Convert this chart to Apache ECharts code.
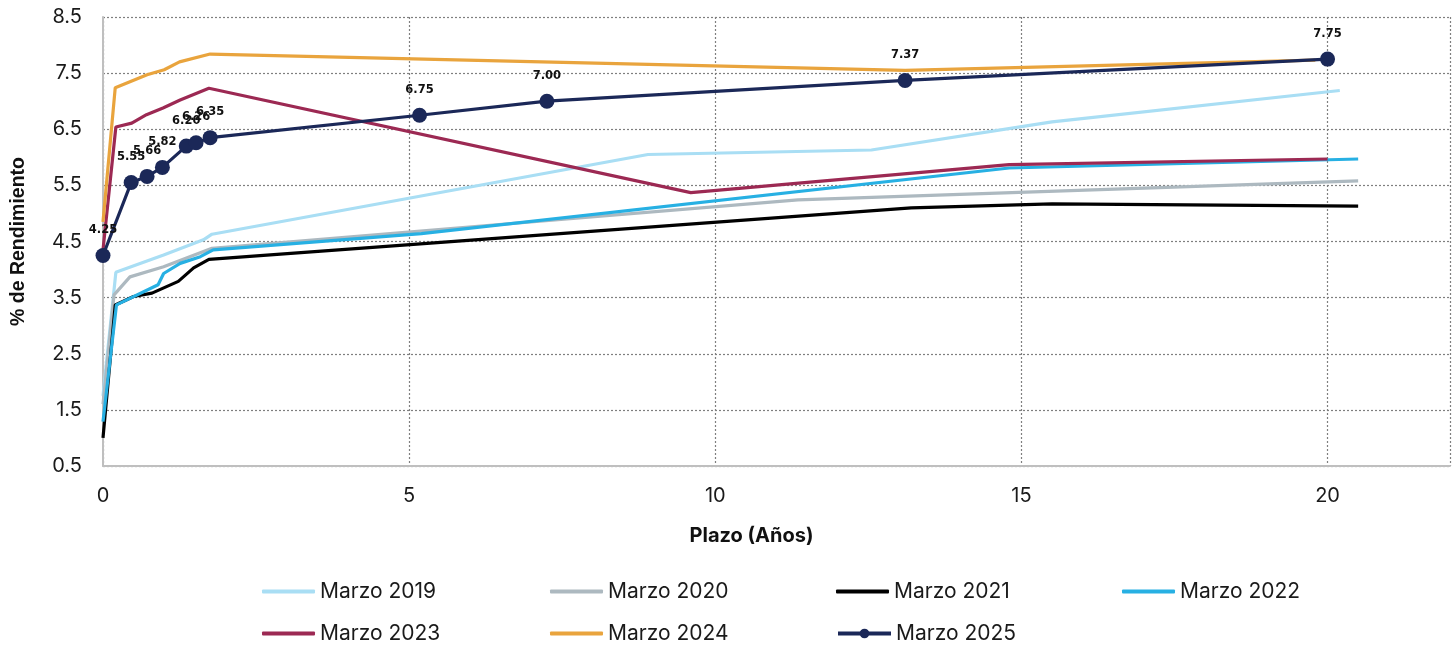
<!DOCTYPE html>
<html>
<head>
<meta charset="utf-8">
<script src="https://cdn.jsdelivr.net/npm/echarts@6/dist/echarts.min.js"></script>
<style>
html,body{margin:0;padding:0;background:#fff;}
#chart{width:1456px;height:647px;}
</style>
</head>
<body>
<div id="chart"></div>
<script>
// ---- Data (tenor in years, yield %) ----
const seriesNames = ["Marzo 2019","Marzo 2020","Marzo 2021","Marzo 2022","Marzo 2023","Marzo 2024","Marzo 2025"];

const x2019 = [0, 0.21, 0.99, 1.64, 1.78, 8.9, 12.55, 15.5, 20.2];
const y2019 = [1.75, 3.95, 4.26, 4.53, 4.63, 6.05, 6.13, 6.63, 7.19];

const x2020 = [0, 0.18, 0.44, 0.99, 1.78, 11.35, 20.5];
const y2020 = [1.6, 3.55, 3.87, 4.05, 4.38, 5.24, 5.58];

const x2021 = [0, 0.2, 0.5, 0.8, 1.23, 1.48, 1.73, 13.2, 15.5, 20.5];
const y2021 = [1.0, 3.37, 3.52, 3.58, 3.79, 4.03, 4.18, 5.10, 5.17, 5.13];

const x2022 = [0, 0.22, 0.9, 0.99, 1.26, 1.59, 1.8, 5.2, 14.8, 20.5];
const y2022 = [1.29, 3.37, 3.73, 3.93, 4.11, 4.23, 4.35, 4.64, 5.81, 5.97];

const x2023 = [0, 0.21, 0.47, 0.71, 0.98, 1.26, 1.73, 9.6, 14.8, 20.0];
const y2023 = [4.35, 6.54, 6.61, 6.76, 6.88, 7.02, 7.23, 5.37, 5.87, 5.97];

const x2024 = [0, 0.2, 0.72, 1.0, 1.25, 1.75, 13.1, 19.8];
const y2024 = [4.85, 7.24, 7.47, 7.56, 7.70, 7.84, 7.55, 7.73];

const x2025 = [0, 0.46, 0.72, 0.97, 1.36, 1.52, 1.75, 5.17, 7.25, 13.1, 20.0];
const y2025 = [4.25, 5.55, 5.66, 5.82, 6.20, 6.26, 6.35, 6.75, 7.00, 7.37, 7.75];

const xTicks = [0, 5, 10, 15, 20];
const yTicks = [0.5, 1.5, 2.5, 3.5, 4.5, 5.5, 6.5, 7.5, 8.5];

// ---- Build ----
const xs = [x2019, x2020, x2021, x2022, x2023, x2024, x2025];
const ys = [y2019, y2020, y2021, y2022, y2023, y2024, y2025];
const colors = ["#A9DEF4", "#ADB9C0", "#000000", "#27B0E3", "#9C2953", "#E9A43D", "#1B2858"];
const pair = (a, b) => a.map((v, i) => [v, b[i]]);

const FONT = "Inter, 'Open Sans', sans-serif";

const series = seriesNames.map((name, i) => {
  const isLast = i === 6;
  return {
    name: name,
    type: 'line',
    data: pair(xs[i], ys[i]),
    smooth: false,
    symbol: isLast ? 'circle' : 'none',
    symbolSize: 15,
    showSymbol: isLast,
    lineStyle: { color: colors[i], width: 3.2 },
    itemStyle: { color: colors[i] },
    z: 2 + i,
    label: isLast ? {
      show: true,
      position: 'top',
      distance: 12,
      formatter: p => p.value[1].toFixed(2),
      fontFamily: "'DejaVu Sans', sans-serif",
      fontWeight: 'bold',
      fontSize: 11.5,
      color: '#111'
    } : { show: false },
    emphasis: { disabled: true },
    animation: false
  };
});

const legendLeft = [262, 550, 836, 1122, 262, 550, 836];
const legendTop = [581, 581, 581, 581, 623, 623, 623];
const legends = seriesNames.map((name, i) => {
  const isLast = i === 6;
  const lg = {
    data: [name],
    left: legendLeft[i],
    top: legendTop[i],
    padding: 0,
    itemWidth: 53,
    itemHeight: isLast ? 12 : 4,
    textStyle: { fontFamily: FONT, fontSize: 21, color: '#1a1a1a' },
    selectedMode: false
  };
  if (!isLast) lg.icon = 'roundRect';
  else lg.lineStyle = { width: 4 };
  return lg;
});

const chart = echarts.init(document.getElementById('chart'), null, { renderer: 'canvas' });
chart.setOption({
  animation: false,
  backgroundColor: '#fff',
  grid: { left: 103, right: 6, top: 17, bottom: 181, containLabel: false },
  legend: legends,
  xAxis: {
    type: 'value',
    min: 0, max: 22, interval: 5,
    name: 'Plazo (Años)',
    nameLocation: 'middle',
    nameGap: 60,
    nameTextStyle: { fontFamily: FONT, fontWeight: 'bold', fontSize: 20, color: '#111', padding: [0, 50, 0, 0] },
    axisLine: { show: true, lineStyle: { color: '#BFBFBF', width: 2 } },
    axisTick: { show: false },
    axisLabel: {
      margin: 20,
      fontFamily: FONT, fontSize: 20, color: '#1a1a1a',
      formatter: v => xTicks.includes(v) ? String(v) : ''
    },
    splitLine: { show: true, lineStyle: { color: '#7F7F7F', type: [2, 2], width: 1.2 } }
  },
  yAxis: {
    type: 'value',
    min: 0.5, max: 8.5, interval: 1,
    name: '% de Rendimiento',
    nameLocation: 'middle',
    nameGap: 74,
    nameRotate: 90,
    nameTextStyle: { fontFamily: "'Liberation Sans', Arial, sans-serif", fontWeight: 'bold', fontSize: 19.5, color: '#111' },
    axisLine: { show: true, lineStyle: { color: '#BFBFBF', width: 2 } },
    axisTick: { show: false },
    axisLabel: {
      margin: 21,
      fontFamily: FONT, fontSize: 20, color: '#1a1a1a',
      formatter: v => yTicks.some(t => Math.abs(t - v) < 1e-9) ? v.toFixed(1) : ''
    },
    splitLine: { show: true, lineStyle: { color: '#7F7F7F', type: [2, 2], width: 1.2 } }
  },
  series: series
});
</script>
</body>
</html>
